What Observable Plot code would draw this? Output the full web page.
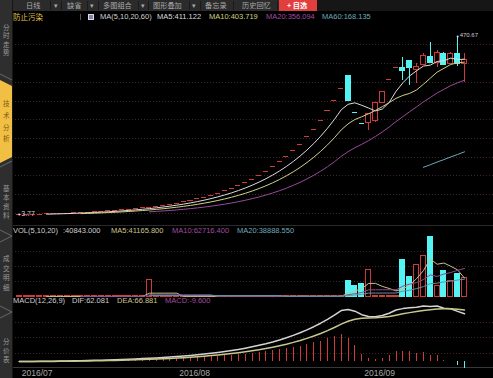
<!DOCTYPE html>
<html><head><meta charset="utf-8">
<script src="https://cdn.jsdelivr.net/npm/d3@7"></script>
<script src="https://cdn.jsdelivr.net/npm/@observablehq/plot@0.6"></script>
<style>
html,body{margin:0;padding:0;background:#000;}
#root{position:relative;width:493px;height:378px;overflow:hidden;background:#000;font-family:"Liberation Sans",Arial,sans-serif;}
#root svg{overflow:visible;display:block;}
</style></head>
<body><div id="root"></div>
<script>
// ---------- data ----------
const closes = [3.77,4.15,4.57,5.03,5.53,6.08,6.69,7.36,8.10,8.91,9.80,10.78,11.86,13.05,14.36,15.80,17.38,19.12,21.03,23.13,25.44,27.98,30.78,33.86,37.25,40.98,45.08,49.59,54.55,60.01,66.01,72.61,79.87,87.86,96.65,106.32,116.95,128.65,141.52,155.67,171.24,188.36,207.20,227.92,250.71,275.78,303.36,333.70,
  300.33,270.30,243.27,267.60,295.70,324.50,356.95,389.00,379.60,387.50,390.10,419.00,401.70,427.90,396.40,425.20,399.00,408.00];
const opens = [3.77,4.15,4.57,5.03,5.53,6.08,6.69,7.36,8.10,8.91,9.80,10.78,11.86,13.05,14.36,15.80,17.38,19.12,21.03,23.13,25.44,27.98,30.78,33.86,37.25,40.98,45.08,49.59,54.55,60.01,66.01,72.61,79.87,87.86,96.65,106.32,116.95,128.65,141.52,155.67,171.24,188.36,207.20,227.92,250.71,275.78,303.36,333.70,
  367.07,270.30,243.27,243.27,248.50,295.70,356.95,389.00,388.50,407.70,383.30,396.40,416.40,401.70,425.20,399.00,425.20,399.00];
const highs = [3.77,4.15,4.57,5.03,5.53,6.08,6.69,7.36,8.10,8.91,9.80,10.78,11.86,13.05,14.36,15.80,17.38,19.12,21.03,23.13,25.44,27.98,30.78,33.86,37.25,40.98,45.08,49.59,54.55,60.01,66.01,72.61,79.87,87.86,96.65,106.32,116.95,128.65,141.52,155.67,171.24,188.36,207.20,227.92,250.71,275.78,303.36,333.70,
  367.07,270.30,243.27,267.60,298.00,325.30,356.95,389.00,415.60,407.70,399.80,426.10,455.70,433.90,429.50,428.70,470.67,425.00];
const lows = [3.77,4.15,4.57,5.03,5.53,6.08,6.69,7.36,8.10,8.91,9.80,10.78,11.86,13.05,14.36,15.80,17.38,19.12,21.03,23.13,25.44,27.98,30.78,33.86,37.25,40.98,45.08,49.59,54.55,60.01,66.01,72.61,79.87,87.86,96.65,106.32,116.95,128.65,141.52,155.67,171.24,188.36,207.20,227.92,250.71,275.78,303.36,333.70,
  300.33,270.30,243.27,224.00,245.00,294.00,356.95,389.00,355.20,342.10,347.30,394.00,399.00,390.00,394.60,397.20,392.00,350.00];
const volumes = [320,150,120,110,140,130,160,120,150,170,140,180,160,150,190,170,200,180,210,36500,260,230,250,240,280,260,300,270,310,290,330,300,350,320,380,360,410,390,440,420,480,460,520,500,560,540,
  500,600,34800,23700,28100,59100,1200,1100,500,1000,82600,44300,70800,90800,132800,22500,58000,34000,50500,40843];
const difValues = [0.00,0.03,0.09,0.17,0.27,0.39,0.53,0.68,0.86,1.05,1.25,1.48,1.73,2.00,2.29,2.61,2.95,3.33,3.74,4.18,4.67,5.20,5.78,6.41,7.10,7.86,8.70,9.61,10.61,11.71,12.92,14.24,15.70,17.30,19.05,20.98,23.10,25.44,28.00,30.82,33.92,37.32,41.07,45.19,49.72,54.71,60.19,66.22,
  67.52,65.38,60.80,58.46,58.21,59.64,62.67,66.89,68.68,69.93,70.32,72.13,71.35,72.01,69.20,68.50,65.08,62.08];
const deaValues = [0.00,0.01,0.02,0.05,0.10,0.15,0.23,0.32,0.43,0.55,0.69,0.85,1.03,1.22,1.43,1.67,1.93,2.21,2.51,2.85,3.21,3.61,4.04,4.52,5.03,5.60,6.22,6.90,7.64,8.45,9.35,10.33,11.40,12.58,13.87,15.30,16.86,18.57,20.46,22.53,24.81,27.31,30.06,33.09,36.41,40.07,44.10,48.52,
  52.32,54.93,56.11,56.58,56.90,57.45,58.49,60.17,61.87,63.48,64.85,66.31,67.32,68.25,68.44,68.45,67.78,66.88];
const macdValues = [0.00,0.05,0.13,0.24,0.35,0.47,0.60,0.72,0.86,1.00,1.12,1.26,1.41,1.56,1.71,1.88,2.05,2.25,2.45,2.67,2.92,3.18,3.47,3.79,4.13,4.52,4.96,5.43,5.94,6.51,7.15,7.83,8.60,9.44,10.35,11.37,12.49,13.73,15.08,16.58,18.22,20.02,22.02,24.20,26.61,29.27,32.19,35.40,
  30.40,20.89,9.39,3.77,2.62,4.38,8.36,13.44,13.62,12.90,10.94,11.64,8.06,7.52,1.52,0.10,-5.40,-9.60];
const monthLabels = ["2016/07","2016/08","2016/09"];
const monthStarts = [0,23,50];
const maPeriods = [5,10,20,60];
const volMaPeriods = [5,10,20];

// ---------- table ----------
const bars = closes.map((c,i) => {
  const o = opens[i], prev = i ? closes[i-1] : c;
  return {i, open:o, high:highs[i], low:lows[i], close:c, vol:volumes[i],
    dif:difValues[i], dea:deaValues[i], macd:macdValues[i],
    up: c > o || (c === o && c >= prev), flat: o === c};
});

const RED="#d03a3a", CYAN="#54f4f4", half=0.37;
const maColors=["#dcdcdc","#d2d28a","#9a4a9a","#70aabb"];
const volMaColors=["#c8c08c","#8e4c8e","#5f93a6"];
const maReduce = k => (v => (v.length < k || v.some(x => x == null || isNaN(x))) ? NaN : d3.mean(v));
const X = {domain:[0,65], range:[18.75,464], axis:null};
const base = {width:493, margin:0, color:{type:"identity"}, style:{background:"transparent",overflow:"visible"}};

const root = document.getElementById("root");
function el(tag, css, html){const e=document.createElement(tag);e.style.cssText=css;if(html!=null)e.innerHTML=html;root.appendChild(e);return e;}
function txt(s,x,yc,color,size,extra){size=size||7.5;return el("div",`position:absolute;white-space:nowrap;left:${x}px;top:${yc-size*0.55}px;font-size:${size}px;line-height:1;color:${color};${extra||""}`,s);}

// grid lines (style only)
[44,63,82,101,119,138,157,175,194,213, 251,266,281, 322,337,353].forEach(y=>el("div",`position:absolute;left:12px;width:481px;top:${y}px;height:1px;background-image:linear-gradient(to right,#3e2626 1px,transparent 1px);background-size:3px 1px;`));
el("div","position:absolute;left:12px;width:481px;top:225px;height:1px;background:#2a2a2a;");
el("div","position:absolute;left:12px;width:481px;top:367px;height:1px;background:#383838;");

// ---------- price panel ----------
const body = bars.filter(d=>!d.flat), flat = bars.filter(d=>d.flat);
const col = d => d.up ? RED : CYAN;
const hi = d3.greatest(bars, d=>d.high), lo = d3.least(bars, d=>d.low);
const ext = [{i:hi.i, v:hi.high, s:6}, {i:lo.i, v:lo.low, s:7}];
const price = Plot.plot({...base, height:205,
  x:X, y:{domain:[3.77,470.67], range:[192,14], axis:null},
  marks:[
    Plot.ruleX(body,{x:"i", y1:"low", y2:d=>Math.min(d.open,d.close), stroke:col, shapeRendering:"crispEdges"}),
    Plot.ruleX(body,{x:"i", y1:d=>Math.max(d.open,d.close), y2:"high", stroke:col, shapeRendering:"crispEdges"}),
    Plot.rect(body,{x1:d=>d.i-half, x2:d=>d.i+half, y1:"open", y2:"close", fill:d=>d.up?"#000":CYAN, stroke:col, shapeRendering:"crispEdges"}),
    Plot.ruleY(flat,{y:"close", x1:d=>d.i-half, x2:d=>d.i+half, stroke:col, shapeRendering:"crispEdges"}),
    ...maPeriods.map((k,j)=>Plot.lineY(bars, Plot.windowY({k, anchor:"end", reduce:maReduce(k)}, {x:"i", y:"close", stroke:maColors[j], strokeWidth:1}))),
    Plot.dot(ext,{x:"i", y:"v", r:1, fill:"#ddd"}),
    Plot.text(ext,{x:"i", y:"v", text:d=>d.v.toFixed(2), textAnchor:"start", dx:2, dy:-1, fill:"#cfcfcf", fontSize:d=>d.s, fontFamily:"Liberation Sans"})
  ]});
el("div","position:absolute;left:0;top:22px;").appendChild(price);

// ---------- volume panel ----------
const vol = Plot.plot({...base, height:71,
  x:X, y:{domain:[0,132800], range:[70,10.7], axis:null},
  marks:[
    Plot.rect(bars,{x1:d=>d.i-half, x2:d=>d.i+half, y1:0, y2:"vol", fill:d=>d.up?"#000":CYAN, stroke:col, shapeRendering:"crispEdges"}),
    ...volMaPeriods.map((k,j)=>Plot.lineY(bars, Plot.windowY({k, anchor:"end", reduce:maReduce(k)}, {x:"i", y:"vol", stroke:volMaColors[j], strokeWidth:1})))
  ]});
el("div","position:absolute;left:0;top:226px;").appendChild(vol);

// ---------- MACD panel ----------
const months = monthLabels.map((label,k)=>({label, i:monthStarts[k]}));
const macd = Plot.plot({...base, height:81, marginBottom:5,
  x:X, y:{domain:[-10,70], range:[71.7,10.1], axis:null},
  marks:[
    Plot.ruleX(bars,{x:"i", y1:0, y2:"macd", stroke:d=>d.macd>=0?RED:CYAN, shapeRendering:"crispEdges"}),
    Plot.lineY(bars,{x:"i", y:"dif", stroke:"#d4d4d4"}),
    Plot.lineY(bars,{x:"i", y:"dea", stroke:"#c8c88e"}),
    Plot.text(months,{x:"i", text:"label", frameAnchor:"bottom", lineAnchor:"middle", textAnchor:"start", dx:2.5, fill:"#a8a8a8", fontSize:8.5, fontFamily:"Liberation Sans"})
  ]});
el("div","position:absolute;left:0;top:297px;").appendChild(macd);

// ---------- toolbar ----------
el("div","position:absolute;left:0;top:0;width:493px;height:11px;background:#161616;");
el("div","position:absolute;left:12px;top:0;width:267px;height:11px;background:#2b2b2b;");
[["日线",26],["▾",54],["缺省",67],["▾",90],["多图组合",103],["▾",141],["图形叠加",153],["▾",192],["备忘录",205],["历史回忆",242]].forEach(([s,x])=>txt(s,x,5.5,"#a9a9a9",7.2,"font-family:'Noto Sans CJK SC'"));
[50,61,87,98,138,148,189,200,233,277].forEach(x=>el("div",`position:absolute;left:${x}px;top:1px;width:1px;height:9px;background:#1a1a1a;`));
el("div","position:absolute;left:279px;top:0;width:38px;height:11px;background:#e23e3e;");
txt("+ 自选",287,5.5,"#fff",7.2,"font-family:'Noto Sans CJK SC';font-weight:bold");

// ---------- header rows ----------
txt("防止污染",13,17,"#e2c648",7.5,"font-family:'Noto Sans CJK SC'");
el("div","position:absolute;left:80px;top:14px;width:1px;height:6px;background:#555;");
el("div","position:absolute;left:88px;top:14px;width:6px;height:6px;background:#8c7ab0;border:1px solid #ddd;box-sizing:border-box;");
txt("MA(5,10,20,60)",100,17,"#cfcfcf");
txt("MA5:411.122",157,17,"#dcdcdc");
txt("MA10:403.719",209,17,"#d2d27e");
txt("MA20:356.094",266,17,"#a04ca0");
txt("MA60:168.135",322,17,"#6eaabb");

txt("VOL(5,10,20)",13,231,"#cfcfcf");
txt(":40843.000",63,231,"#cfcfcf");
txt("MA5:41165.800",111,231,"#cdc48e");
txt("MA10:62716.400",172,231,"#a04ca0");
txt("MA20:38888.550",237,231,"#6eaabb");

txt("MACD(12,26,9)",13,301.5,"#cfcfcf");
txt("DIF:62.081",72,301.5,"#cfcfcf");
txt("DEA:66.881",117,301.5,"#cdc48e");
txt("MACD:-9.600",165,301.5,"#a04ca0");

// ---------- sidebar ----------
el("div","position:absolute;left:0;top:0;width:12px;height:378px;background:#2e2e2e;border-right:1px solid #151515;");
const sb = el("div","position:absolute;left:0;top:0;width:13px;height:378px;");
sb.innerHTML = `<svg width="13" height="378" style="position:absolute;left:0;top:0">
<polygon points="0,80 12,86 12,157 0,163" fill="#f2bf45"/>
<line x1="0" y1="74" x2="12" y2="80" stroke="#777" stroke-width="0.8"/>
<line x1="0" y1="167" x2="12" y2="161" stroke="#777" stroke-width="0.8"/>
<line x1="0" y1="230" x2="12" y2="236" stroke="#777" stroke-width="0.8"/>
<line x1="0" y1="242" x2="12" y2="236" stroke="#777" stroke-width="0.8"/>
<line x1="0" y1="306" x2="12" y2="312" stroke="#777" stroke-width="0.8"/>
<line x1="0" y1="318" x2="12" y2="312" stroke="#777" stroke-width="0.8"/>
</svg>`;
const side = [["分时走势",[27.5,36,44.5,53],"#9a9a9a"],["技术分析",[104,116,127.5,139],"#7a5a10"],["基本资料",[188.5,197.5,206.5,215.5],"#9a9a9a"],["成交明细",[259,268.5,278,287.5],"#9a9a9a"],["分价表",[342,351,360],"#9a9a9a"]];
side.forEach(([s,ys,c])=>[...s].forEach((ch,k)=>txt(ch,3,ys[k],c,6.5,"font-family:'Noto Sans CJK SC'")));
</script></body></html>
